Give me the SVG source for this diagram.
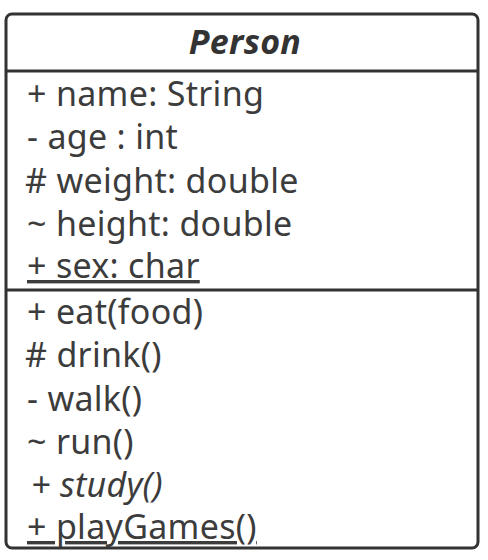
<svg xmlns="http://www.w3.org/2000/svg" width="488" height="560" viewBox="0 0 488 560">
<style>
.box{fill:#ffffff;stroke:#333333;stroke-width:3}
.sep{stroke:#333333;stroke-width:3}
text{font-family:"Noto Sans","Open Sans",sans-serif;font-size:34px;fill:#3c3c3c;letter-spacing:0.3px}
.title{font-weight:bold;font-style:italic;text-anchor:middle;fill:#333333}
.u{text-decoration:underline}
.i{font-style:italic}
</style>
<rect width="488" height="560" fill="#ffffff"/>
<g id="person">
<rect class="box" x="6" y="14" width="472" height="534" rx="6"/>
<line class="sep" x1="6" y1="71" x2="478" y2="71"/>
<line class="sep" x1="6" y1="290" x2="478" y2="290"/>
<text class="title" x="245" y="54">Person</text>
<text x="27" y="106">+ name: String</text>
<text x="27" y="149">- age : int</text>
<text x="25" y="193"># weight: double</text>
<text x="27" y="236">~ height: double</text>
<text class="u" x="27" y="278">+ sex: char</text>
<text x="27" y="324">+ eat(food)</text>
<text x="25" y="367"># drink()</text>
<text x="27" y="411">- walk()</text>
<text x="27" y="454">~ run()</text>
<text class="i" x="31" y="497">+ study()</text>
<text class="u" x="27" y="539">+ playGames()</text>
</g>
<g id="connectors"/>
</svg>
